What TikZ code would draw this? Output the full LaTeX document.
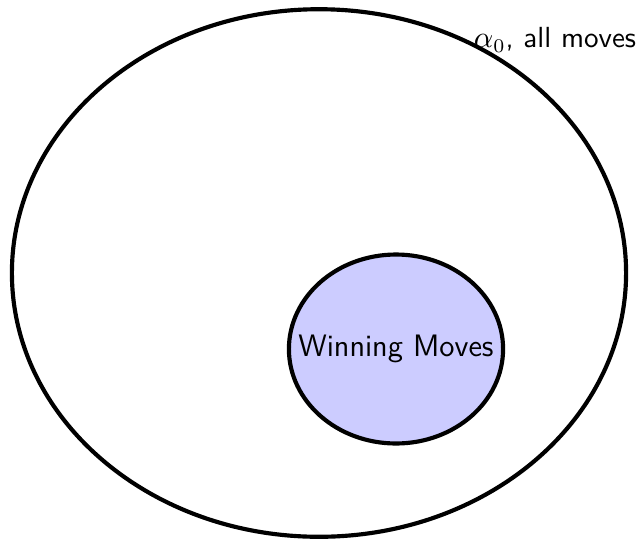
\documentclass[tikz,border=0pt]{standalone}
\usetikzlibrary{shapes.geometric}

\begin{document}
\begin{tikzpicture}[
  x=0.127mm,y=-0.127mm,
  set/.style={ellipse,draw=black,line width=1.5pt,inner sep=0pt},
  lbl/.style={font=\sffamily,inner sep=0pt}]
\useasboundingbox (0,0) rectangle (638,541);
\node[set,minimum width=7.8cm,minimum height=6.7cm] (all) at (319,273) {};
\node[set,fill=blue!20,minimum width=2.72cm,minimum height=2.4cm] (win) at (396,349) {};
\node[lbl,font=\sffamily\fontsize{11.2}{13}\selectfont] (wintext) at (win.center) {Winning Moves};
\node[lbl,font=\sffamily\fontsize{10.5}{12}\selectfont] (alpha) at (555,40) {$\alpha_0$, all moves};
\end{tikzpicture}
\end{document}
